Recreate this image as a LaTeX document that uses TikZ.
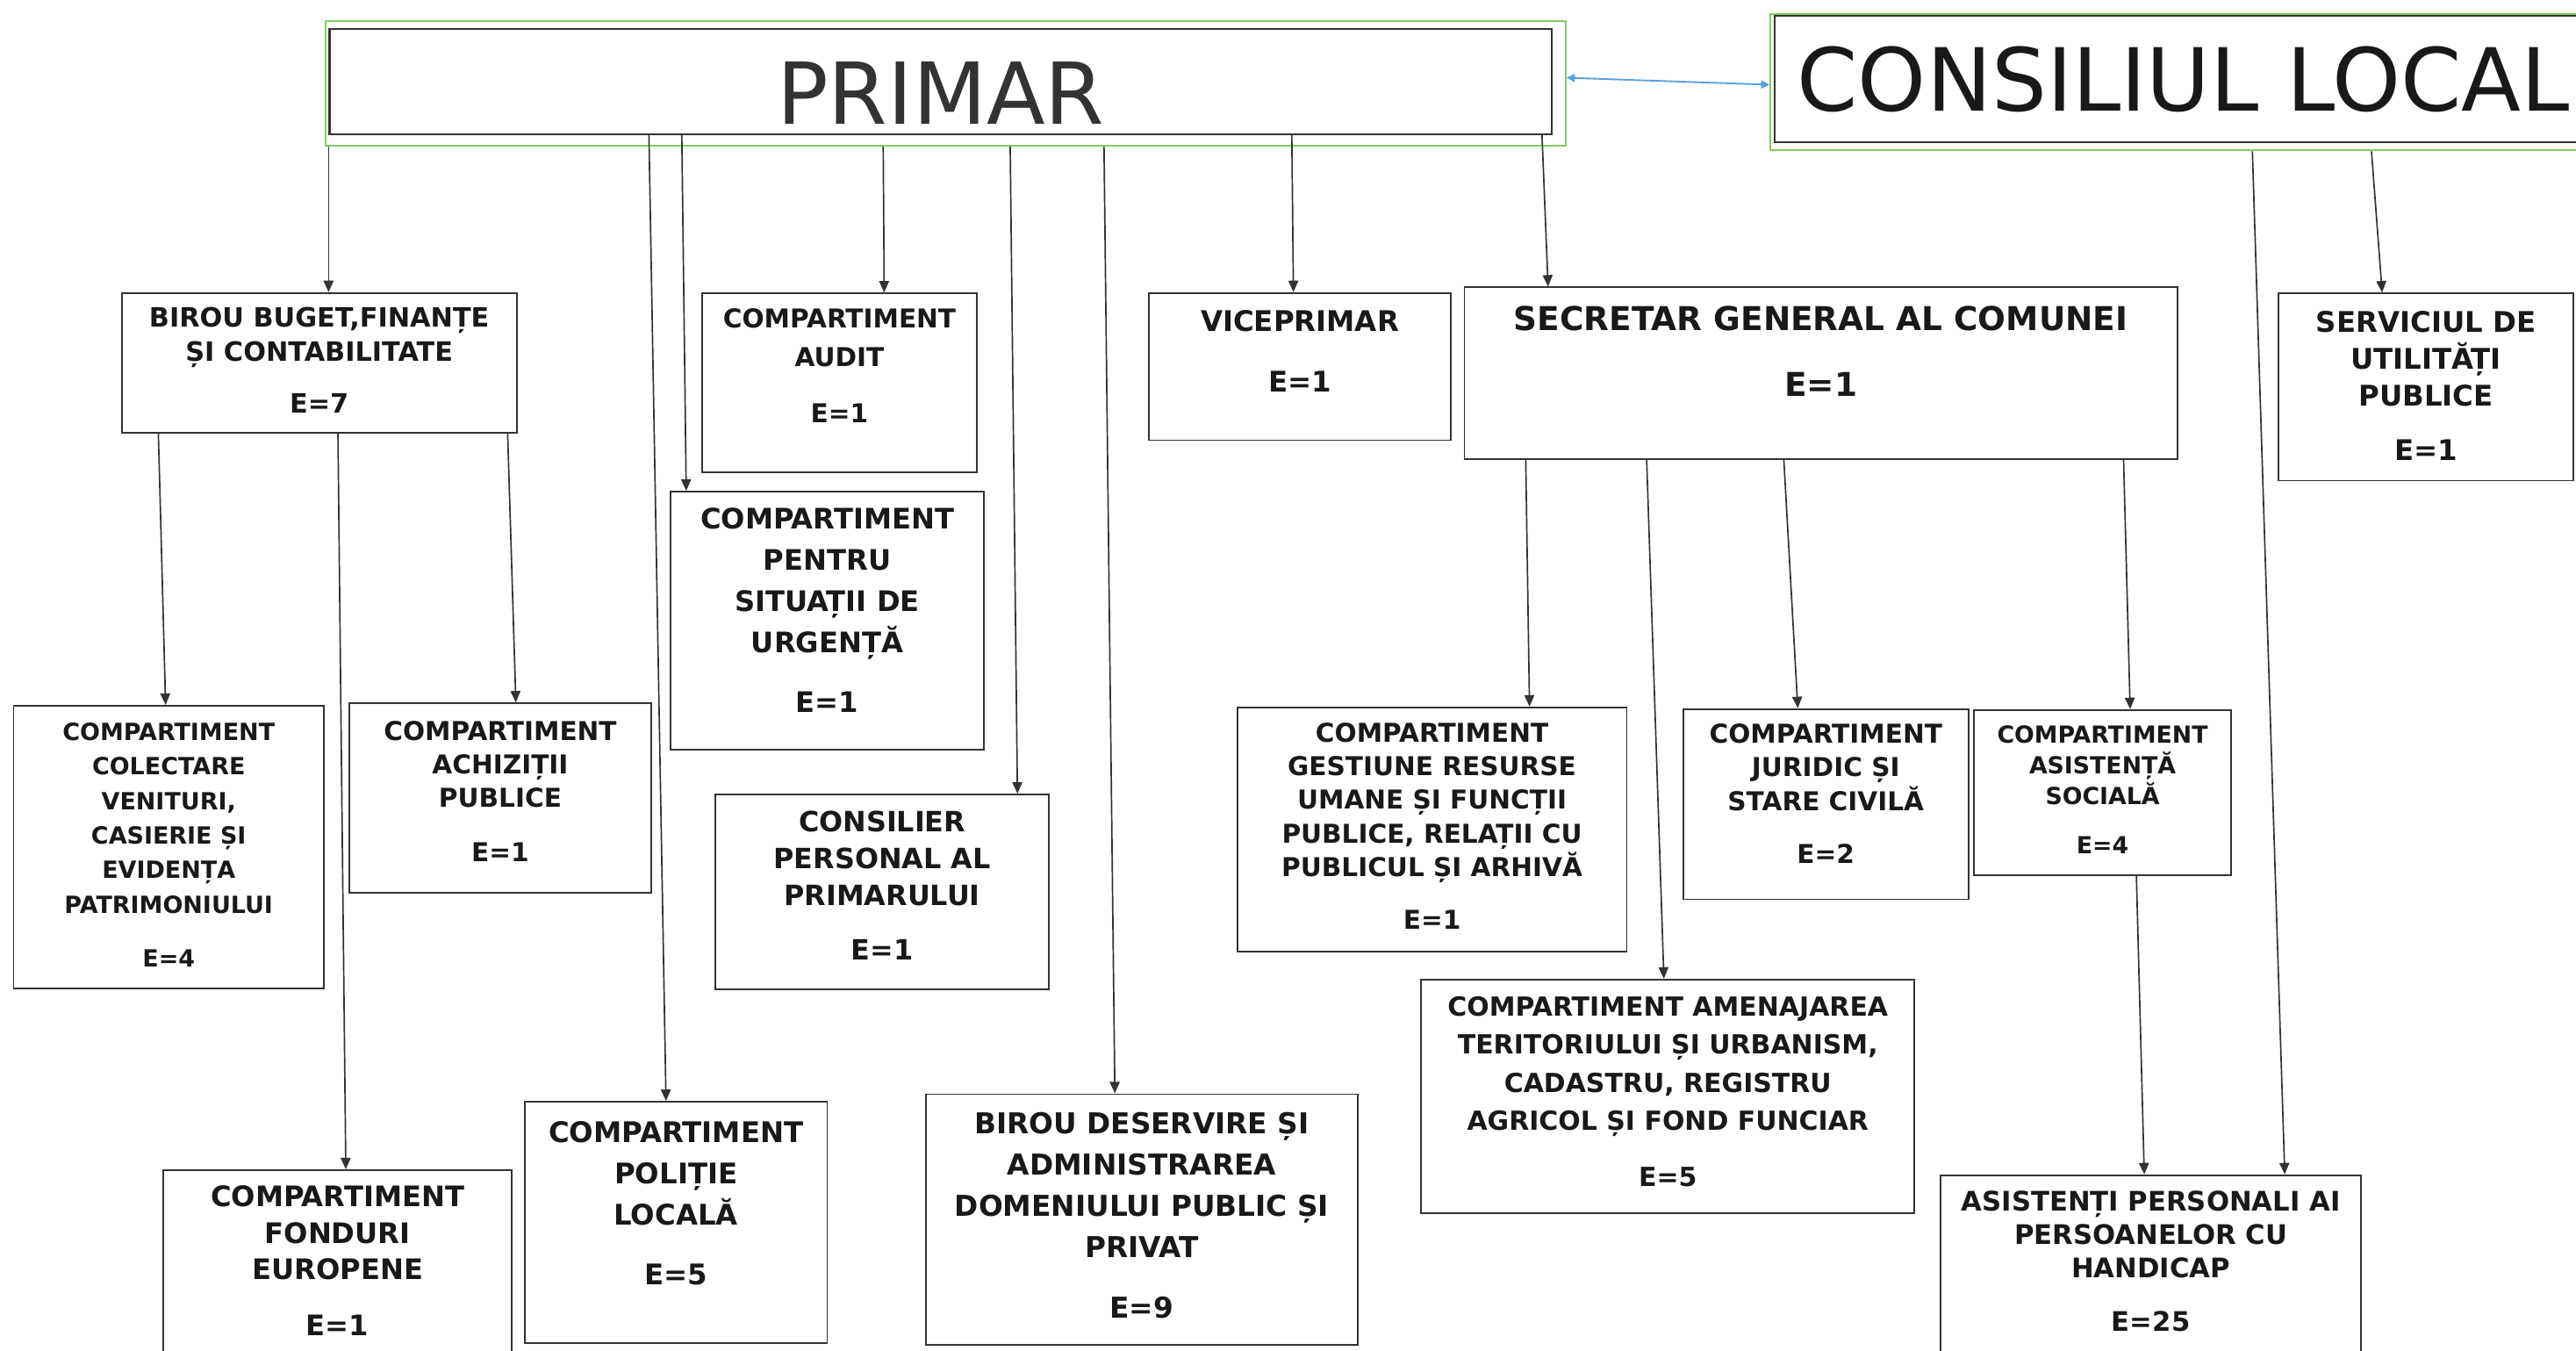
\documentclass[tikz,border=0pt]{standalone}
\usepackage{fontspec}
\setmainfont{DejaVu Sans}
\usetikzlibrary{arrows.meta}

\definecolor{verde}{RGB}{128,206,98}
\definecolor{albastru}{RGB}{88,160,222}

\tikzset{
	cutie/.style={draw=black!80, line width=1pt, anchor=north west, inner sep=0pt},
	cadru/.style={draw=verde, line width=1.1pt, anchor=north west, inner sep=0pt},
	eticheta/.style={anchor=north, inner sep=0pt, align=center, text=black!90},
	fnt/.style 2 args={font=\fontsize{#1}{#2}\selectfont\bfseries},
	sageata/.style={->, draw=black!80, line width=0.9pt},
}

\begin{document}
\begin{tikzpicture}[x=1pt, y=-1pt, >={Triangle[length=7pt,width=6pt]}]
	
	%--- Pagina ---
	\useasboundingbox (0,0) rectangle (1568,822);
	\clip (0,0) rectangle (1568,822);
	\fill[white] (0,0) rectangle (1568,822);
	
	%--- Primar si Consiliul Local ---
	\node[cadru, minimum width=755pt, minimum height=75.5pt] (primarC) at (197.5,12.5) {};
	\node[cutie, line width=1.3pt, minimum width=744pt, minimum height=64pt] (primar) at (200,17) {};
	\node[anchor=base, font=\fontsize{52pt}{60pt}\selectfont, text=black!80] (primarT) at ([yshift=6.7pt]primar.south) {PRIMAR};
	
	\node[cadru, minimum width=500pt, minimum height=83pt] (consiliuC) at (1077,8) {};
	\node[cutie, line width=1.3pt, minimum width=500pt, minimum height=77pt] (consiliu) at (1079.5,9) {};
	\node[anchor=base, font=\fontsize{53pt}{60pt}\selectfont, text=black!90] (consiliuT) at ([xshift=249.5pt,yshift=19.8pt]consiliu.south west) {CONSILIUL LOCAL};
	
	\draw[<->, draw=albastru, line width=1pt, >={Triangle[length=5pt,width=5pt]}] ([yshift=3.5pt]primarC.east) -- ([yshift=-1.5pt]consiliuC.west);
	
	%--- Cutii (nume/x/y/latime/inaltime) ---
	\foreach \nume/\x/\y/\w/\h in {
		buget/73.6/177.8/240.4/85.2, audit/427/178/167/109,
		viceprimar/699/177.8/183.4/89.6, secretar/890.9/174.4/433.9/104.3,
		serviciu/1386.6/178/179.1/114, urgenta/407.5/298.7/191.1/156.9,
		colectare/7.8/429/188.8/172, achizitii/212/427.5/184/115.5,
		consilier/435/483/203/118.6, fonduri/99/711.6/212/130,
		politie/319/670/184/147, deservire/563/665.4/263/152.6,
		gestiune/752.6/430/237.1/148.5, juridic/1024/431/173.7/115.8,
		asistenta/1201/431.6/156.6/100.4, amenajare/864.6/595.6/300.2/142.1,
		asistenti/1180.8/714.7/255.9/130} {
		\node[cutie, minimum width=\w pt, minimum height=\h pt] (\nume) at (\x,\y) {};
	}
	
	%--- Texte ---
	\node[eticheta, fnt={16.2pt}{20.8pt}] (bugetT) at ([yshift=-9pt]buget.north) {BIROU BUGET,FINANȚE\\ȘI CONTABILITATE\\[10.9pt]E=7};
	\node[eticheta, fnt={15.8pt}{23.2pt}] (auditT) at ([yshift=-9.75pt]audit.north) {COMPARTIMENT\\AUDIT\\[11.1pt]E=1};
	\node[eticheta, fnt={17.3pt}{22pt}] (viceprimarT) at ([yshift=-10.7pt]viceprimar.north) {VICEPRIMAR\\[14.8pt]E=1};
	\node[eticheta, fnt={20pt}{25pt}] (secretarT) at ([yshift=-11.5pt]secretar.north) {SECRETAR GENERAL AL COMUNEI\\[15.5pt]E=1};
	\node[eticheta, fnt={17.3pt}{22.5pt}] (serviciuT) at ([yshift=-10.9pt]serviciu.north) {SERVICIUL DE\\UTILITĂȚI\\PUBLICE\\[10.9pt]E=1};
	\node[eticheta, fnt={17.2pt}{25.2pt}] (urgentaT) at ([yshift=-10.2pt]urgenta.north) {COMPARTIMENT\\PENTRU\\SITUAȚII DE\\URGENȚĂ\\[10.6pt]E=1};
	\node[eticheta, fnt={14.4pt}{21pt}] (colectareT) at ([yshift=-10.75pt]colectare.north) {COMPARTIMENT\\COLECTARE\\VENITURI,\\CASIERIE ȘI\\EVIDENȚA\\PATRIMONIULUI\\[11.7pt]E=4};
	\node[eticheta, fnt={15.8pt}{20.25pt}] (achizitiiT) at ([yshift=-11.25pt]achizitii.north) {COMPARTIMENT\\ACHIZIȚII\\PUBLICE\\[13.15pt]E=1};
	\node[eticheta, fnt={17pt}{22.3pt}] (consilierT) at ([yshift=-10.5pt]consilier.north) {CONSILIER\\PERSONAL AL\\PRIMARULUI\\[11pt]E=1};
	\node[eticheta, fnt={17.2pt}{22.2pt}] (fonduriT) at ([yshift=-9.85pt]fonduri.north) {COMPARTIMENT\\FONDURI\\EUROPENE\\[12pt]E=1};
	\node[eticheta, fnt={17.3pt}{25.2pt}] (politieT) at ([yshift=-12.3pt]politie.north) {COMPARTIMENT\\POLIȚIE\\LOCALĂ\\[10.8pt]E=5};
	\node[eticheta, fnt={17.5pt}{25.1pt}] (deservireT) at ([yshift=-11.3pt]deservire.north) {BIROU DESERVIRE ȘI\\ADMINISTRAREA\\DOMENIULUI PUBLIC ȘI\\PRIVAT\\[12pt]E=9};
	\node[eticheta, fnt={15.8pt}{20.5pt}] (gestiuneT) at ([yshift=-9.55pt]gestiune.north) {COMPARTIMENT\\GESTIUNE RESURSE\\UMANE ȘI FUNCȚII\\PUBLICE, RELAȚII CU\\PUBLICUL ȘI ARHIVĂ\\[11.5pt]E=1};
	\node[eticheta, fnt={15.8pt}{20.6pt}] (juridicT) at ([yshift=-9.25pt]juridic.north) {COMPARTIMENT\\JURIDIC ȘI\\STARE CIVILĂ\\[11.7pt]E=2};
	\node[eticheta, fnt={14.3pt}{18.7pt}] (asistentaT) at ([yshift=-9.6pt]asistenta.north) {COMPARTIMENT\\ASISTENȚĂ\\SOCIALĂ\\[11.3pt]E=4};
	\node[eticheta, fnt={16pt}{23.1pt}] (amenajareT) at ([yshift=-10.75pt]amenajare.north) {COMPARTIMENT AMENAJAREA\\TERITORIULUI ȘI URBANISM,\\CADASTRU, REGISTRU\\AGRICOL ȘI FOND FUNCIAR\\[11pt]E=5};
	\node[eticheta, fnt={16.4pt}{20.3pt}] (asistentiT) at ([yshift=-10.1pt]asistenti.north) {ASISTENȚI PERSONALI AI\\PERSOANELOR CU\\HANDICAP\\[12.3pt]E=25};
	
	%--- Sageti (sursa/deplasare/tinta/deplasare) ---
	\foreach \a/\p/\b/\q in {
		primarC/2.5/buget/126.4, primar/195/politie/86.4,
		primar/215/urgenta/10.2, primarC/340.1/audit/111.2,
		primarC/417.4/consilier/184.3, primarC/474.5/deservire/115.6,
		primar/586.3/viceprimar/88.3, primar/738.6/secretar/51.4,
		consiliuC/366.5/serviciu/63.4, consiliuC/294/asistenti/209.9,
		buget/22.8/colectare/93, buget/132.1/fonduri/111.5,
		buget/235.4/achizitii/102, secretar/37.8/gestiune/178.4,
		secretar/111.4/amenajare/148.2, secretar/194.9/juridic/70.3,
		secretar/401.7/asistenta/95.6, asistenta/99.4/asistenti/124.4} {
		\draw[sageata] ([xshift=\p pt]\a.south west) -- ([xshift=\q pt]\b.north west);
	}
	
\end{tikzpicture}
\end{document}
